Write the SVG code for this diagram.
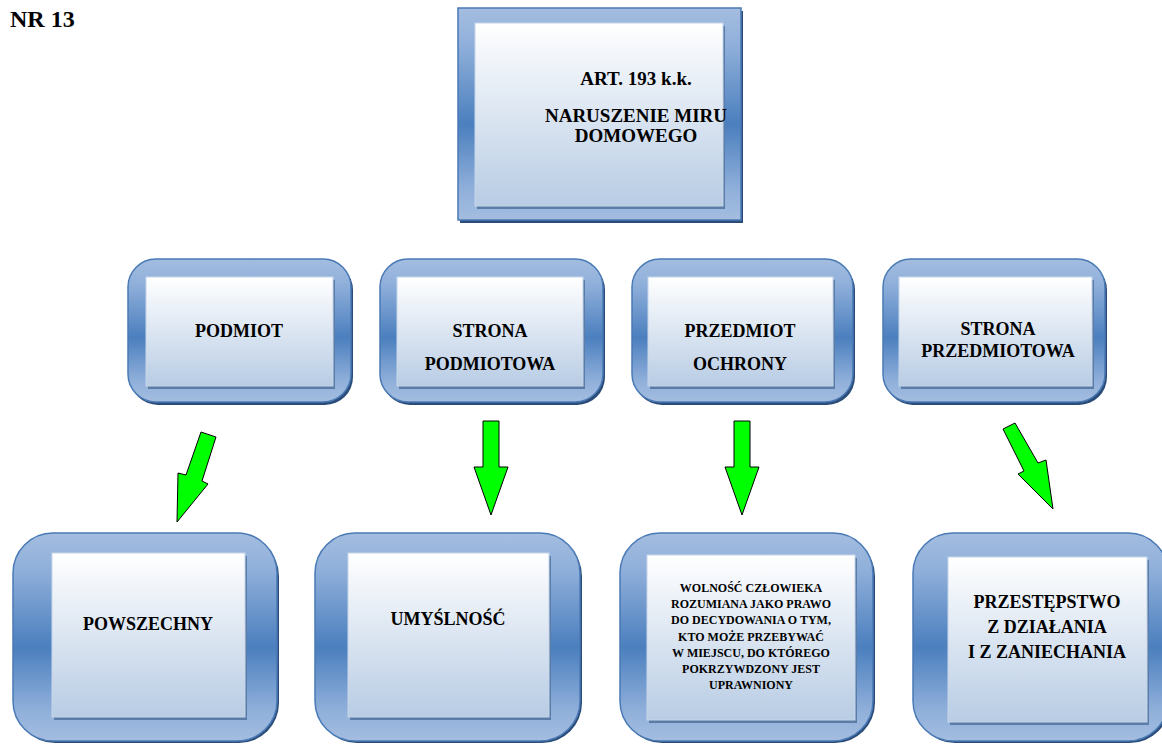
<svg xmlns="http://www.w3.org/2000/svg" width="1162" height="745" viewBox="0 0 1162 745">
<defs>
<linearGradient id="frame" x1="0" y1="0" x2="0" y2="1">
<stop offset="0" stop-color="#a4bde0"/>
<stop offset="0.18" stop-color="#8fafda"/>
<stop offset="0.55" stop-color="#4b7fbe"/>
<stop offset="0.85" stop-color="#8fafda"/>
<stop offset="1" stop-color="#a4bde0"/>
</linearGradient>
<linearGradient id="face" x1="0" y1="0" x2="0" y2="1">
<stop offset="0" stop-color="#ffffff"/>
<stop offset="1" stop-color="#b8cce4"/>
</linearGradient>
<style>
.frame{fill:url(#frame);stroke:#4a7ab5;stroke-width:1.5}
.fshadow{fill:#2b4c78}
.face{fill:url(#face);stroke:#c6d6ea;stroke-width:1}
.ishadow{fill:#5a7ca6}
.t{font-family:"Liberation Serif","Times New Roman",serif;font-weight:bold;fill:#000;text-anchor:middle}
.t19{font-size:19px}
.t18{font-size:18px}
.t12{font-size:12px}
.arrow{fill:#00ff00;stroke:#000;stroke-width:1;stroke-linejoin:miter}
</style>
</defs>
<rect width="1162" height="745" fill="#ffffff"/>

<text class="t" x="10" y="27" style="text-anchor:start;font-size:24px">NR 13</text>

<g id="art193">
<rect class="fshadow" x="460" y="11" width="283" height="212"/>
<rect class="frame" x="458" y="8" width="283" height="212"/>
<rect class="ishadow" x="477" y="26" width="248" height="183"/>
<rect class="face" x="475" y="23" width="248" height="183"/>
<text class="t t19" x="636" y="85">ART. 193 k.k.</text>
<text class="t t19" x="636" y="122">NARUSZENIE MIRU</text>
<text class="t t19" x="636" y="142">DOMOWEGO</text>
</g>

<g id="podmiot">
<rect class="fshadow" x="130" y="262" width="223" height="143" rx="28"/>
<rect class="frame" x="128" y="259" width="223" height="143" rx="28"/>
<rect class="ishadow" x="148" y="280" width="187" height="109"/>
<rect class="face" x="146" y="277" width="187" height="109"/>
<text class="t t18" x="239" y="337">PODMIOT</text>
</g>

<g id="strona-podmiotowa">
<rect class="fshadow" x="382" y="262" width="223" height="143" rx="28"/>
<rect class="frame" x="380" y="259" width="223" height="143" rx="28"/>
<rect class="ishadow" x="399" y="280" width="186" height="109"/>
<rect class="face" x="397" y="277" width="186" height="109"/>
<text class="t t18" x="490" y="337">STRONA</text>
<text class="t t18" x="490" y="370">PODMIOTOWA</text>
</g>

<g id="przedmiot-ochrony">
<rect class="fshadow" x="634" y="262" width="221" height="143" rx="28"/>
<rect class="frame" x="632" y="259" width="221" height="143" rx="28"/>
<rect class="ishadow" x="650" y="280" width="185" height="109"/>
<rect class="face" x="648" y="277" width="185" height="109"/>
<text class="t t18" x="740" y="337">PRZEDMIOT</text>
<text class="t t18" x="740" y="370">OCHRONY</text>
</g>

<g id="strona-przedmiotowa">
<rect class="fshadow" x="885" y="262" width="222" height="143" rx="28"/>
<rect class="frame" x="883" y="259" width="222" height="143" rx="28"/>
<rect class="ishadow" x="901" y="280" width="193" height="109"/>
<rect class="face" x="899" y="277" width="193" height="109"/>
<text class="t t18" x="998" y="335">STRONA</text>
<text class="t t18" x="998" y="357">PRZEDMIOTOWA</text>
</g>

<g id="powszechny">
<rect class="fshadow" x="15" y="536" width="264" height="207" rx="40"/>
<rect class="frame" x="13" y="533" width="264" height="208" rx="40"/>
<rect class="ishadow" x="54" y="556" width="193" height="164"/>
<rect class="face" x="52" y="553" width="193" height="164"/>
<text class="t t18" x="148" y="630">POWSZECHNY</text>
</g>

<g id="umyslnosc">
<rect class="fshadow" x="317" y="536" width="265" height="207" rx="40"/>
<rect class="frame" x="315" y="533" width="265" height="208" rx="40"/>
<rect class="ishadow" x="350" y="556" width="201" height="164"/>
<rect class="face" x="348" y="553" width="201" height="164"/>
<text class="t t18" x="448" y="625">UMYŚLNOŚĆ</text>
</g>

<g id="wolnosc">
<rect class="fshadow" x="622" y="536" width="253" height="207" rx="40"/>
<rect class="frame" x="620" y="533" width="253" height="208" rx="40"/>
<rect class="ishadow" x="649" y="558" width="208" height="165"/>
<rect class="face" x="647" y="555" width="208" height="165"/>
<text class="t t12" x="751" y="592">WOLNOŚĆ CZŁOWIEKA</text>
<text class="t t12" x="751" y="608">ROZUMIANA JAKO PRAWO</text>
<text class="t t12" x="751" y="624">DO DECYDOWANIA O TYM,</text>
<text class="t t12" x="751" y="641">KTO MOŻE PRZEBYWAĆ</text>
<text class="t t12" x="751" y="657">W MIEJSCU, DO KTÓREGO</text>
<text class="t t12" x="751" y="673">POKRZYWDZONY JEST</text>
<text class="t t12" x="751" y="689">UPRAWNIONY</text>
</g>

<g id="przestepstwo">
<rect class="fshadow" x="915" y="536" width="255" height="207" rx="40"/>
<rect class="frame" x="913" y="533" width="255" height="208" rx="40"/>
<rect class="ishadow" x="950" y="560" width="199" height="165"/>
<rect class="face" x="948" y="557" width="199" height="165"/>
<text class="t t18" x="1047" y="608">PRZESTĘPSTWO</text>
<text class="t t18" x="1047" y="633">Z DZIAŁANIA</text>
<text class="t t18" x="1047" y="658">I Z ZANIECHANIA</text>
</g>

<g id="connectors">
<polygon class="arrow" points="201,432 216,437 202,481 208,484 177,522 178,473 186,475"/>
<polygon class="arrow" points="483,421 499,421 499,467 508,467 491,515 474,467 483,467"/>
<polygon class="arrow" points="734,421 750,421 750,467 759,467 742,515 725,467 734,467"/>
<polygon class="arrow" points="1003,429 1015,423 1038,463 1046,460 1053,509 1018,474 1024,471"/>
</g>
</svg>
